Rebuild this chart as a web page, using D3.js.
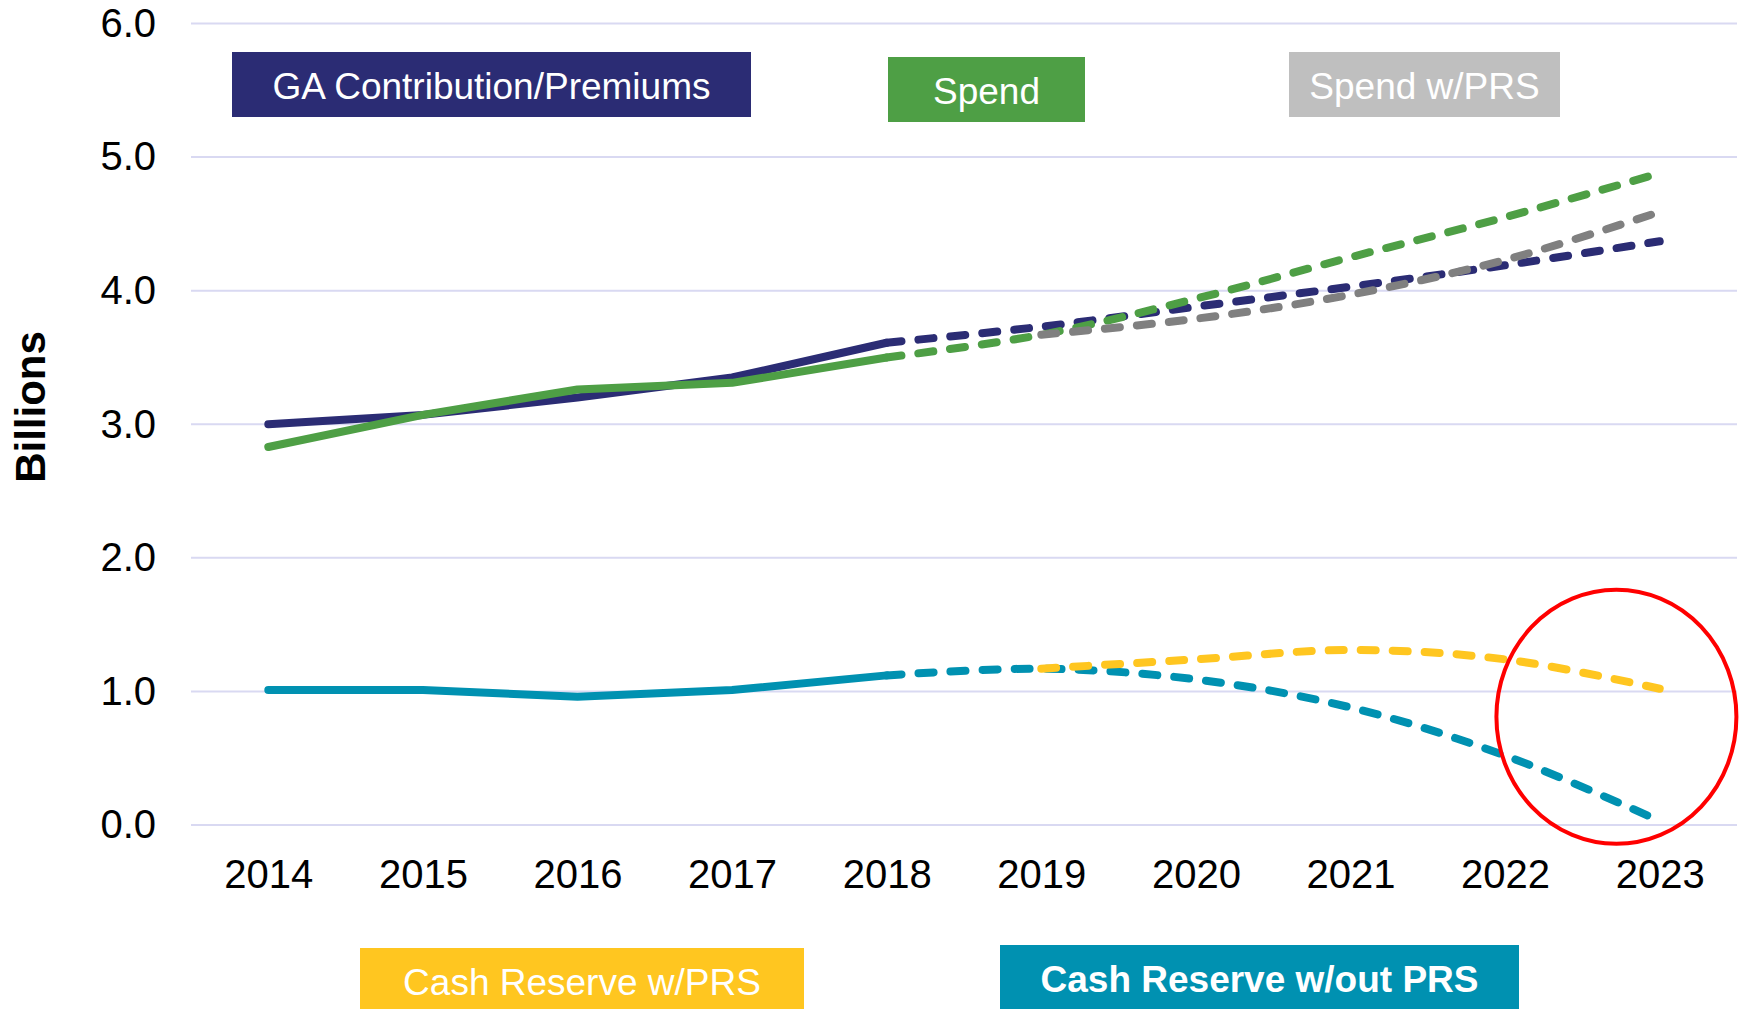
<!DOCTYPE html>
<html>
<head>
<meta charset="utf-8">
<script src="https://cdn.jsdelivr.net/npm/d3@7"></script>
<style>
  body { margin: 0; background: #fff; }
  text { font-family: "Liberation Sans", Arial, sans-serif; }
</style>
</head>
<body>
<script>
// data
var years = [2014, 2015, 2016, 2017, 2018, 2019, 2020, 2021, 2022, 2023];
var gaPremiums = [3.00, 3.07, 3.20, 3.35, 3.61, 3.73, 3.88, 4.03, 4.19, 4.37];
var spend      = [2.83, 3.07, 3.26, 3.31, 3.50, 3.67, 3.94, 4.25, 4.55, 4.88];
var spendPRS   = [null, null, null, null, null, 3.67, 3.79, 3.97, 4.23, 4.59];
var cashNoPRS  = [1.01, 1.01, 0.96, 1.01, 1.12, 1.17, 1.09, 0.88, 0.52, 0.03];
var cashPRS    = [null, null, null, null, null, 1.17, 1.24, 1.31, 1.24, 1.02];
var yTicks = [0, 1, 2, 3, 4, 5, 6];
var lastActual = 2018;

var width = 1749, height = 1009;

var svg = d3.select("body")
    .append("svg")
    .attr("width", width)
    .attr("height", height);

// scales
var x = d3.scalePoint().domain(years).range([191, 1737]).padding(0.5);
var y = d3.scaleLinear().domain([0, 6]).range([825, 23.5]);

// gridlines
svg.append("g")
    .selectAll("line")
    .data(yTicks)
    .enter().append("line")
    .attr("x1", 191).attr("x2", 1737)
    .attr("y1", d => y(d)).attr("y2", d => y(d))
    .attr("stroke", "#D9D9F2")
    .attr("stroke-width", 2);

// y axis labels
var yAxis = svg.append("g")
    .attr("transform", "translate(172,0)")
    .call(d3.axisLeft(y).tickValues(yTicks).tickFormat(d3.format(".1f")).tickSize(0).tickPadding(16));
yAxis.select(".domain").remove();
yAxis.selectAll("text")
    .attr("font-size", "40px")
    .attr("fill", "#000")
    .style("font-family", "'Liberation Sans', Arial, sans-serif");

// x axis labels
var xAxis = svg.append("g")
    .attr("transform", "translate(0,850)")
    .call(d3.axisBottom(x).tickSize(0).tickPadding(10));
xAxis.select(".domain").remove();
xAxis.selectAll("text")
    .attr("font-size", "40px")
    .attr("fill", "#000")
    .style("font-family", "'Liberation Sans', Arial, sans-serif");

// y title
svg.append("text")
    .attr("transform", "translate(45,407) rotate(-90)")
    .attr("text-anchor", "middle")
    .attr("font-size", "42px")
    .attr("font-weight", "bold")
    .text("Billions");

// series
function build(vals) {
    return years.map((yr, i) => ({ year: yr, value: vals[i] })).filter(d => d.value != null);
}
var series = [
    { name: "ga", values: build(gaPremiums), color: "#2B2C74" },
    { name: "spend", values: build(spend), color: "#4E9F45" },
    { name: "spendPRS", values: build(spendPRS), color: "#808080" },
    { name: "cashNoPRS", values: build(cashNoPRS), color: "#0091B1" },
    { name: "cashPRS", values: build(cashPRS), color: "#FFC620" }
];

var solidLine = d3.line().x(d => x(d.year)).y(d => y(d.value));
var dashLine = d3.line().x(d => x(d.year)).y(d => y(d.value)).curve(d3.curveCatmullRom.alpha(0.5));

series.forEach(function(s) {
    var actual = s.values.filter(d => d.year <= lastActual);
    var proj = s.values.filter(d => d.year >= lastActual);
    if (actual.length > 1) {
        svg.append("path")
            .datum(actual)
            .attr("d", solidLine)
            .attr("fill", "none")
            .attr("stroke", s.color)
            .attr("stroke-width", 8)
            .attr("stroke-linecap", "round")
            .attr("stroke-linejoin", "round");
    }
    svg.append("path")
        .datum(proj)
        .attr("d", dashLine)
        .attr("fill", "none")
        .attr("stroke", s.color)
        .attr("stroke-width", 8)
        .attr("stroke-dasharray", "15,17")
        .attr("stroke-linecap", "round");
});

// red circle annotation
var step = x.step();
svg.append("ellipse")
    .attr("cx", x(2023) - 0.28 * step)
    .attr("cy", y(0.81))
    .attr("rx", 120)
    .attr("ry", 127)
    .attr("fill", "none")
    .attr("stroke", "#FF0000")
    .attr("stroke-width", 4);

// legend boxes
var legendLabels = ["GA Contribution/Premiums", "Spend", "Spend w/PRS", "Cash Reserve w/PRS", "Cash Reserve w/out PRS"];
var legendColors = ["#2B2C74", "#4E9F45", "#BFBFBF", "#FFC620", "#0091B1"];
var legendBoxes = [
    { x: 232, y: 52, w: 519, h: 65, bold: false },
    { x: 888, y: 57, w: 197, h: 65, bold: false },
    { x: 1289, y: 52, w: 271, h: 65, bold: false },
    { x: 360, y: 948, w: 444, h: 65, bold: false },
    { x: 1000, y: 945, w: 519, h: 68, bold: true }
];

var leg = svg.selectAll(".legend")
    .data(legendBoxes)
    .enter().append("g")
    .attr("class", "legend")
    .attr("transform", d => "translate(" + d.x + "," + d.y + ")");

leg.append("rect")
    .attr("width", d => d.w)
    .attr("height", d => d.h)
    .attr("fill", (d, i) => legendColors[i]);

leg.append("text")
    .attr("x", d => d.w / 2)
    .attr("y", 34)
    .attr("dy", "0.35em")
    .attr("text-anchor", "middle")
    .attr("fill", "#fff")
    .attr("font-size", "37px")
    .attr("font-weight", d => d.bold ? "bold" : "normal")
    .text((d, i) => legendLabels[i]);
</script>
</body>
</html>
